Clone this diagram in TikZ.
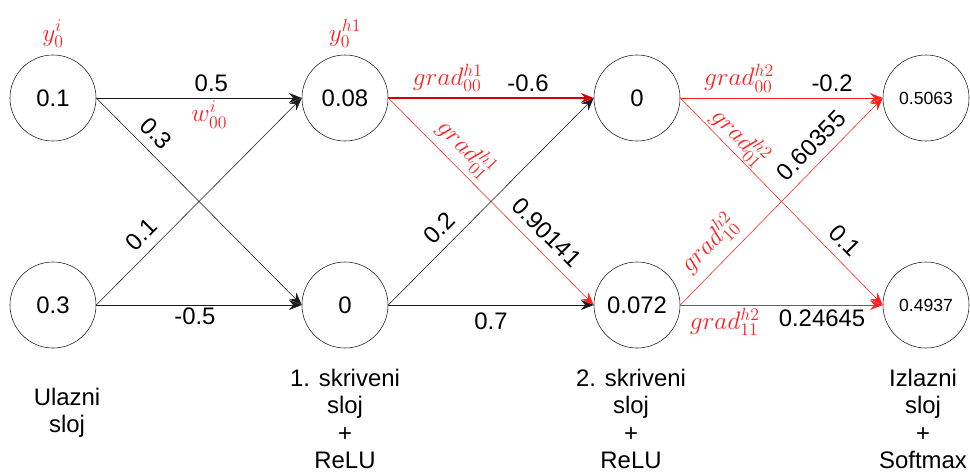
\RequirePackage{fix-cm}
\documentclass[tikz,border=0pt]{standalone}
\usepackage{fontspec}
\setmainfont{Liberation Sans}
\usepackage{amsmath}
\usetikzlibrary{arrows.meta,positioning}
\definecolor{Ink}{HTML}{1A1A1A}
\definecolor{GradRed}{HTML}{FF2020}
\definecolor{DeepRed}{HTML}{D00000}

\begin{document}
\begin{tikzpicture}[x=0.025cm,y=-0.025cm,
    neuron/.style={circle,draw=Ink,minimum size=2.15cm,inner sep=0pt,font=\fontsize{17}{20}\selectfont},
    outneuron/.style={neuron,font=\fontsize{12.5}{15}\selectfont},
    conn/.style={draw=Ink,-{Stealth[length=9pt,width=7pt]}},
    gconn/.style={draw=GradRed,-{Stealth[length=9pt,width=7pt]}},
    wlab/.style={font=\fontsize{17}{20}\selectfont,inner sep=2pt},
    glab/.style={text=GradRed,font=\fontsize{18}{21}\selectfont,inner sep=1pt},
    layer/.style={align=center,anchor=north,font=\fontsize{17}{19.5}\selectfont},
]
\useasboundingbox (0,0) rectangle (970,475);

% neurons
\node[neuron] (in0) at (53,98) {0.1};
\node[neuron] (in1) at (53,305) {0.3};
\node[neuron] (h10) at (345,98) {0.08};
\node[neuron] (h11) at (345,305) {0};
\node[neuron] (h20) at (637,98) {0};
\node[neuron] (h21) at (637,305) {0.072};
\node[outneuron] (out0) at (926,98) {0.5063};
\node[outneuron] (out1) at (926,305) {0.4937};

% outputs of neurons
\node[glab,above=4pt of in0] (yin) {$y_0^{i}$};
\node[glab,above=4pt of h10] (yh1) {$y_0^{h1}$};

% input -> hidden 1
\draw[conn] (in0.east) -- node[wlab,pos=0.56,above=2pt] (w00) {0.5}
    node[glab,pos=0.55,below=1pt] (w00g) {$w_{00}^{i}$} (h10.west);
\draw[conn] (in0.east) -- node[wlab,pos=0.23,sloped,above=4.5pt] (w01) {0.3} (h11.west);
\draw[conn] (in1.east) -- node[wlab,pos=0.28,sloped,above=4.5pt] (w10) {0.1} (h10.west);
\draw[conn] (in1.east) -- node[wlab,pos=0.48,below=0pt] (w11) {-0.5} (h11.west);

% hidden 1 -> hidden 2
\draw[draw=DeepRed,line width=1.2pt,-{Stealth[length=9pt,width=7pt]}]
    (h10.east) -- node[glab,pos=0.29,above=3pt] {$grad_{00}^{h1}$}
    node[wlab,pos=0.68,above=2pt] {-0.6} (h20.west);
\draw[gconn] (h10.east) -- node[glab,pos=0.31,sloped,above=3pt] {$grad_{01}^{h1}$}
    node[wlab,pos=0.71,sloped,above=4.5pt] {0.90141} (h21.west);
\draw[conn] (h11.east) -- node[wlab,pos=0.31,sloped,above=4.5pt] {0.2} (h20.west);
\draw[conn] (h11.east) -- node[wlab,pos=0.5,below=3pt] {0.7} (h21.west);

% hidden 2 -> output
\draw[gconn] (h20.east) -- node[glab,pos=0.29,above=3pt] {$grad_{00}^{h2}$}
    node[wlab,pos=0.75,above=2pt] {-0.2} (out0.west);
\draw[gconn] (h20.east) -- node[glab,pos=0.24,sloped,above=0pt] {$grad_{01}^{h2}$}
    node[wlab,pos=0.75,sloped,above=4.5pt] {0.1} (out1.west);
\draw[gconn] (h21.east) -- node[glab,pos=0.22,sloped,above=5pt] {$grad_{10}^{h2}$}
    node[wlab,pos=0.71,sloped,above=4.5pt] {0.60355} (out0.west);
\draw[gconn] (h21.east) -- node[glab,pos=0.22,below=1pt] {$grad_{11}^{h2}$}
    node[wlab,pos=0.7,below=1pt] {0.24645} (out1.west);

% layer names
\node[layer] (lin) at (67,383) {Ulazni\\sloj};
\node[layer] (lh1) at (345,364) {1. skriveni\\sloj\\+\\ReLU};
\node[layer] (lh2) at (631,364) {2. skriveni\\sloj\\+\\ReLU};
\node[layer] (lout) at (923,364) {Izlazni\\sloj\\+\\Softmax};
\end{tikzpicture}
\end{document}
